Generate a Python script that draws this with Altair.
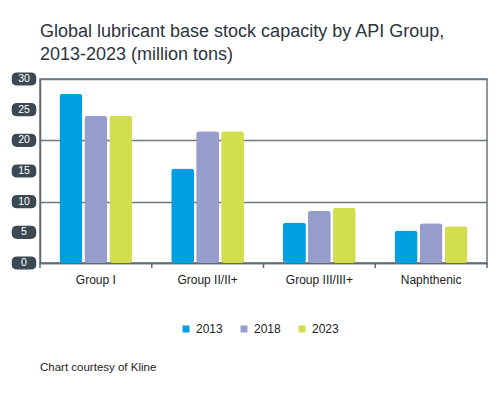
import altair as alt
import pandas as pd

groups = ["Group I", "Group II/II+", "Group III/III+", "Naphthenic"]
years = ["2013", "2018", "2023"]
v2013 = [27.6, 15.4, 6.6, 5.3]
v2018 = [24.0, 21.5, 8.5, 6.5]
v2023 = [24.0, 21.5, 9.0, 6.0]
y_ticks = [0, 5, 10, 15, 20, 25, 30]
colors = ["#00a0e0", "#969dcc", "#d3de4e"]

rows = []
for yr, vals in zip(years, [v2013, v2018, v2023]):
    for g, v in zip(groups, vals):
        rows.append({"group": g, "year": yr, "value": v})
df = pd.DataFrame(rows)
ticks_df = pd.DataFrame({"tick": y_ticks, "label": [str(t) for t in y_ticks]})
grp_df = pd.DataFrame({"group": groups})
note_df = pd.DataFrame({"note": ["Chart courtesy of Kline"]})

W, H = 447, 184
axis_col = "#5f6a74"
FONT = "Liberation Sans"

xscale = alt.Scale(domain=groups, paddingInner=0, paddingOuter=0)
yscale = alt.Scale(domain=[0, 30])

bars = alt.Chart(df).mark_bar(cornerRadius=3).encode(
    x=alt.X("group:N", scale=xscale, sort=groups, title=None,
            axis=alt.Axis(labelAngle=0, ticks=False, domain=True, domainColor=axis_col,
                          domainWidth=1.5, labelPadding=11, labelFontSize=12,
                          labelColor="#222222", labelFont=FONT)),
    xOffset=alt.XOffset("year:N", scale=alt.Scale(paddingInner=0.08, paddingOuter=0.78)),
    y=alt.Y("value:Q", scale=yscale, title=None,
            axis=alt.Axis(values=y_ticks, labels=False, ticks=False, domain=True,
                          domainColor=axis_col, domainWidth=1.5, grid=True,
                          gridColor="#6e767e", gridWidth=1.3)),
    color=alt.Color("year:N", scale=alt.Scale(domain=years, range=colors), title=None,
                    legend=alt.Legend(orient="none", direction="horizontal",
                                      legendX=140, legendY=244, symbolType="square",
                                      symbolSize=49, symbolStrokeWidth=0,
                                      labelFontSize=12, labelFont=FONT, labelColor="#222222",
                                      labelOffset=4, columnPadding=15)),
)

tick_rules = alt.Chart(grp_df).mark_rule(color=axis_col, strokeWidth=1.5).encode(
    x=alt.X("group:N", scale=xscale, sort=groups, bandPosition=0),
    y=alt.value(H), y2=alt.value(H + 5),
)
end_rule = alt.Chart(grp_df.head(1)).mark_rule(color=axis_col, strokeWidth=1.5).encode(
    x=alt.value(W), y=alt.value(H), y2=alt.value(H + 5),
)

badge_path = ("M -0.55,-0.54 L 0.55,-0.54 Q 1,-0.54 1,-0.12 L 1,0.12 Q 1,0.54 0.55,0.54 "
              "L -0.55,0.54 Q -1,0.54 -1,0.12 L -1,-0.12 Q -1,-0.54 -0.55,-0.54 Z")
badges = alt.Chart(ticks_df).mark_point(shape=badge_path, filled=True, size=600,
                                        color="#3c4852", opacity=1).encode(
    x=alt.value(-16), y=alt.Y("tick:Q", scale=yscale),
)
badge_text = alt.Chart(ticks_df).mark_text(color="white", fontSize=10.5, font=FONT,
                                           baseline="middle", align="center").encode(
    x=alt.value(-16), y=alt.Y("tick:Q", scale=yscale), text="label:N",
)
note = alt.Chart(note_df).mark_text(align="left", baseline="middle", fontSize=11.5,
                                    font=FONT, color="#222222").encode(
    x=alt.value(0), y=alt.value(289), text="note:N",
)

chart = alt.layer(bars, tick_rules, end_rule, badges, badge_text, note).properties(
    width=W, height=H,
    autosize=alt.AutoSizeParams(type="none"),
    padding={"left": 32, "top": 71, "right": 5, "bottom": 120},
    title=alt.TitleParams(text=["Global lubricant base stock capacity by API Group,",
                                "2013-2023 (million tons)"],
                          anchor="start", frame="group", fontSize=18, font=FONT,
                          fontWeight="normal", color="#2b3440", offset=8, lineHeight=23),
).configure_view(stroke="#6e767e", strokeWidth=1.5)

chart.save("out.html", embed_options={"renderer": "svg", "actions": False})
